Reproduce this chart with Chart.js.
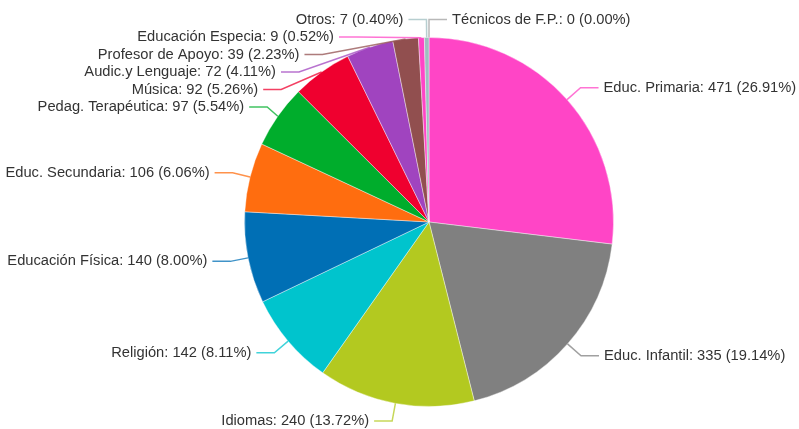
<!DOCTYPE html>
<html>
<head>
<meta charset="utf-8">
<script src="https://cdn.jsdelivr.net/npm/chart.js@4/dist/chart.umd.min.js"></script>
<style>
  body { margin: 0; background: #fff; }
  #wrap { width: 799px; height: 429px; }
</style>
</head>
<body>
<div id="wrap"><canvas id="pieChart"></canvas></div>
<script>
// Data
var categories = ['Educ. Primaria', 'Educ. Infantil', 'Idiomas', 'Religión', 'Educación Física',
    'Educ. Secundaria', 'Pedag. Terapéutica', 'Música', 'Audic.y Lenguaje', 'Profesor de Apoyo',
    'Educación Especia', 'Otros', 'Técnicos de F.P.'];
var values = [471, 335, 240, 142, 140, 106, 97, 92, 72, 39, 9, 7, 0];
// percentages as printed on the chart
var percents = ['26.91', '19.14', '13.72', '8.11', '8.00', '6.06', '5.54', '5.26', '4.11', '2.23',
    '0.52', '0.40', '0.00'];
var colors = ['#ff45c6', '#808080', '#b3c920', '#00c4cd', '#006fb5', '#ff6d0f', '#00ad2c',
    '#ef002f', '#a044bf', '#914f4f', '#ff45c6', '#9fbec0', '#a0a0a0'];

function fade(hex, a) {
    var n = parseInt(hex.slice(1), 16);
    return 'rgba(' + (n >> 16) + ',' + ((n >> 8) & 255) + ',' + (n & 255) + ',' + a + ')';
}

// Outside labels with elbow leader lines
var outsideLabels = {
    id: 'outsideLabels',
    afterDraw: function(chart) {
        var ctx = chart.ctx;
        var arcs = chart.getDatasetMeta(0).data;
        var items = [];
        arcs.forEach(function(arc, i) {
            var p = arc.getProps(['x', 'y', 'startAngle', 'endAngle', 'outerRadius'], true);
            var mid = (p.startAngle + p.endAngle) / 2;
            var R = p.outerRadius + 18;
            var c = Math.cos(mid), s = Math.sin(mid);
            items.push({
                i: i, cx: p.x, cy: p.y, R: p.outerRadius + 14,
                left: c < -0.001,
                ex: p.x + p.outerRadius * c, ey: p.y + p.outerRadius * s,
                bx: p.x + R * c, by: p.y + R * s, ny: p.y + R * s
            });
        });
        [true, false].forEach(function(side) {
            var group = items.filter(function(it) { return it.left === side; });
            group.sort(function(a, b) { return a.ny - b.ny; });
            for (var k = 1; k < group.length; k++) {
                var g = group[k];
                var minY = group[k - 1].by + 17.5;
                if (g.by < minY + 2) {
                    g.by = Math.max(g.by, minY);
                    var dy = g.by - g.cy;
                    var dx = Math.sqrt(Math.max(g.R * g.R - dy * dy, 0));
                    g.bx = g.cx + (side ? -dx : dx);
                }
            }
        });
        ctx.save();
        ctx.font = '14.7px "Liberation Sans", Arial, sans-serif';
        ctx.textBaseline = 'middle';
        items.forEach(function(it) {
            var dir = it.left ? -1 : 1;
            ctx.strokeStyle = fade(colors[it.i], 0.75);
            ctx.lineWidth = 1.5;
            ctx.beginPath();
            ctx.moveTo(it.ex, it.ey);
            ctx.lineTo(it.bx, it.by);
            ctx.lineTo(it.bx + dir * 18, it.by);
            ctx.stroke();
            ctx.fillStyle = '#333';
            ctx.textAlign = it.left ? 'right' : 'left';
            ctx.fillText(categories[it.i] + ': ' + values[it.i] + ' (' + percents[it.i] + '%)',
                it.bx + dir * 23, it.by);
        });
        ctx.restore();
    }
};

window.onload = function() {
    var ctx = document.getElementById('pieChart').getContext('2d');
    new Chart(ctx, {
        type: 'pie',
        data: {
            labels: categories,
            datasets: [{
                data: values,
                backgroundColor: colors,
                borderColor: 'rgba(255,255,255,0.4)',
                borderWidth: 1
            }]
        },
        options: {
            responsive: true,
            maintainAspectRatio: false,
            animation: false,
            layout: { padding: { top: 37, bottom: 22, left: 60, right: 1 } },
            plugins: {
                legend: { display: false },
                tooltip: { enabled: false }
            }
        },
        plugins: [outsideLabels]
    });
};
</script>
</body>
</html>
